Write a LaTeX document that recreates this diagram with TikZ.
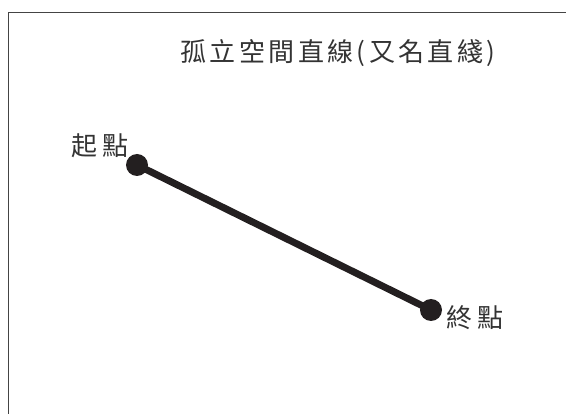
\documentclass[tikz,border=0pt]{standalone}
\usepackage{fontspec}
\newfontfamily\cjktitle[LetterSpace=13]{Noto Sans CJK TC}
\newfontfamily\cjk[LetterSpace=18]{Noto Sans CJK TC}
\definecolor{inkdark}{HTML}{231F20}
\definecolor{txtgrey}{HTML}{333333}
\definecolor{framegrey}{HTML}{444444}
\begin{document}
\begin{tikzpicture}[x=1pt,y=-1pt,
  frame/.style={draw=framegrey,line width=1pt},
  lbl/.style={inner sep=0pt,text=txtgrey,font=\cjk\fontsize{26}{30}\selectfont},
  ttl/.style={inner sep=0pt,text=txtgrey,font=\cjktitle\fontsize{26}{30}\selectfont},
  dot/.style={circle,fill=inkdark,minimum size=22pt,inner sep=0pt},
  seg/.style={draw=inkdark,line width=7pt}]
\useasboundingbox (0,0) rectangle (566,414);
\coordinate (fbl) at (8.5,414);
\coordinate (ftl) at (8.5,12.5);
\coordinate (ftr) at (566,12.5);
\draw[frame] (fbl) -- (ftl) -- (ftr);
\node[ttl] (title) at (338,53) {孤立空間直線(又名直綫)};
\node[dot] (s) at (137,165) {};
\node[dot] (e) at (431,310) {};
\draw[seg] (s.center) -- (e.center);
\node[lbl] (sl) at (100,146) {起點};
\node[lbl] (el) at (475,318) {終點};
\end{tikzpicture}
\end{document}
